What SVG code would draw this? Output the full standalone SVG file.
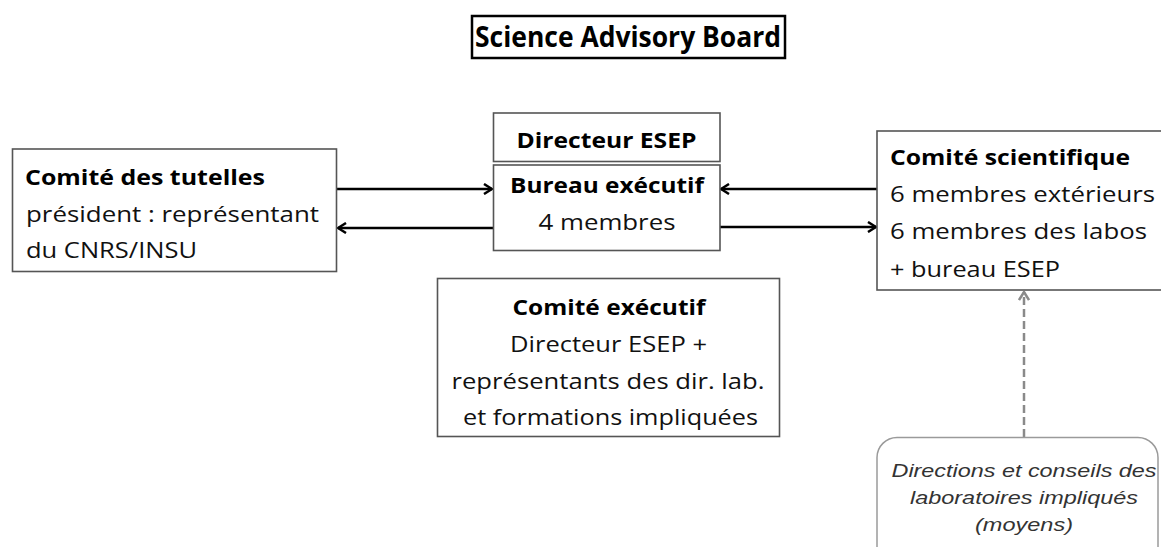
<svg xmlns="http://www.w3.org/2000/svg" width="1161" height="547" viewBox="0 0 1161 547">
<defs>
<style>
.box{fill:#fff;stroke:#555;stroke-width:1.6}
.t{font-family:"Open Sans","Noto Sans",sans-serif;font-size:21px;fill:#111}
.b{font-weight:bold;fill:#000}
.it{font-family:"Liberation Sans",Arial,sans-serif;font-style:italic;font-size:18px;fill:#333;text-anchor:middle}
.arr{stroke:#000;stroke-width:2.5;fill:none;marker-end:url(#ah)}
.dash{stroke:#8a8a8a;stroke-width:2.5;fill:none;stroke-dasharray:8 4;marker-end:url(#ahg)}
</style>
<marker id="ah" viewBox="0 0 12 12" refX="11" refY="6" markerWidth="12" markerHeight="12" markerUnits="userSpaceOnUse" orient="auto">
<path d="M3,1 L11,6 L3,11" fill="none" stroke="#000" stroke-width="2.5"/>
</marker>
<marker id="ahg" viewBox="0 0 12 12" refX="11" refY="6" markerWidth="12" markerHeight="12" markerUnits="userSpaceOnUse" orient="auto">
<path d="M3,1 L11,6 L3,11" fill="none" stroke="#8a8a8a" stroke-width="2.5"/>
</marker>
</defs>
<rect width="1161" height="547" fill="#fff"/>

<g id="title">
<rect x="472" y="16" width="313" height="42" fill="#fff" stroke="#000" stroke-width="2.5"/>
<text x="475" y="47" font-family="'Open Sans','Noto Sans',sans-serif" font-weight="bold" font-size="28" fill="#000" textLength="306" lengthAdjust="spacingAndGlyphs">Science Advisory Board</text>
</g>

<g id="connectors">
<line class="arr" x1="337" y1="189" x2="492" y2="189"/>
<line class="arr" x1="493" y1="228" x2="338" y2="228"/>
<line class="arr" x1="877" y1="189" x2="721" y2="189"/>
<line class="arr" x1="720" y1="227" x2="876" y2="227"/>
<line class="dash" x1="1024" y1="437" x2="1024" y2="292"/>
</g>

<g id="comite-tutelles">
<rect class="box" x="12.5" y="149" width="324" height="122.5"/>
<text class="t b" x="25" y="185" textLength="240" lengthAdjust="spacingAndGlyphs">Comité des tutelles</text>
<text class="t" x="26" y="222" textLength="293" lengthAdjust="spacingAndGlyphs">président : représentant</text>
<text class="t" x="26" y="258" textLength="171" lengthAdjust="spacingAndGlyphs">du CNRS/INSU</text>
</g>

<g id="directeur-esep">
<rect class="box" x="493.5" y="113" width="226.5" height="48.5"/>
<text class="t b" x="516.5" y="148" textLength="180" lengthAdjust="spacingAndGlyphs">Directeur ESEP</text>
</g>

<g id="bureau-executif">
<rect class="box" x="493.5" y="165" width="226.5" height="85.5"/>
<text class="t b" x="510" y="192.5" textLength="194" lengthAdjust="spacingAndGlyphs">Bureau exécutif</text>
<text class="t" x="538.5" y="230" textLength="137" lengthAdjust="spacingAndGlyphs">4 membres</text>
</g>

<g id="comite-scientifique">
<rect class="box" x="877" y="131" width="300" height="159"/>
<text class="t b" x="890" y="165" textLength="240" lengthAdjust="spacingAndGlyphs">Comité scientifique</text>
<text class="t" x="890" y="201.5" textLength="265" lengthAdjust="spacingAndGlyphs">6 membres extérieurs</text>
<text class="t" x="890" y="238.5" textLength="257" lengthAdjust="spacingAndGlyphs">6 membres des labos</text>
<text class="t" x="890" y="276.5" textLength="170" lengthAdjust="spacingAndGlyphs">+ bureau ESEP</text>
</g>

<g id="comite-executif">
<rect class="box" x="437.5" y="278.5" width="342" height="158"/>
<text class="t b" x="512.5" y="315" textLength="193" lengthAdjust="spacingAndGlyphs">Comité exécutif</text>
<text class="t" x="510" y="351.5" textLength="197" lengthAdjust="spacingAndGlyphs">Directeur ESEP +</text>
<text class="t" x="451.5" y="388.5" textLength="313" lengthAdjust="spacingAndGlyphs">représentants des dir. lab.</text>
<text class="t" x="463" y="425" textLength="295" lengthAdjust="spacingAndGlyphs">et formations impliquées</text>
</g>

<g id="directions-labos">
<rect x="877" y="437.5" width="281" height="140" rx="20" ry="20" fill="#fff" stroke="#9a9a9a" stroke-width="1.5"/>
<text class="it" x="1024" y="476.5" textLength="265" lengthAdjust="spacingAndGlyphs">Directions et conseils des</text>
<text class="it" x="1024" y="504" textLength="228" lengthAdjust="spacingAndGlyphs">laboratoires impliqués</text>
<text class="it" x="1024" y="530.5" textLength="98" lengthAdjust="spacingAndGlyphs">(moyens)</text>
</g>
</svg>
